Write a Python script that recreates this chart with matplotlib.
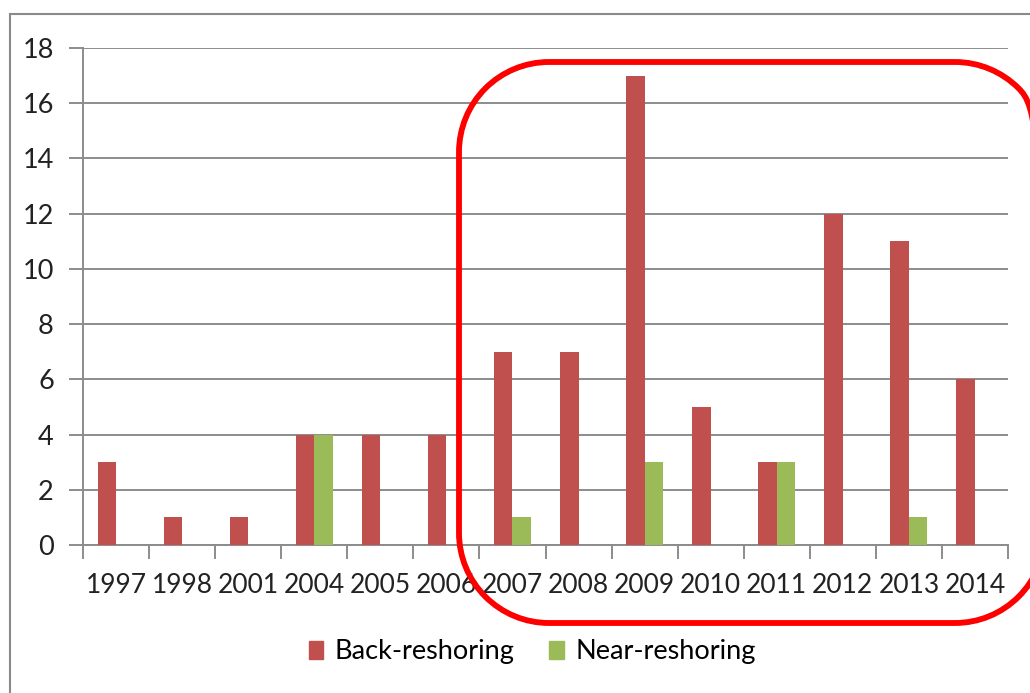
import numpy as np
import matplotlib.pyplot as plt
from matplotlib.patches import Rectangle, Patch, PathPatch
from matplotlib.path import Path
from matplotlib.transforms import IdentityTransform

plt.rcParams['font.family'] = ['Lato', 'DejaVu Sans']

years = ["1997", "1998", "2001", "2004", "2005", "2006", "2007",
         "2008", "2009", "2010", "2011", "2012", "2013", "2014"]
back_reshoring = [3, 1, 1, 4, 4, 4, 7, 7, 17, 5, 3, 12, 11, 6]
near_reshoring = [0, 0, 0, 4, 0, 0, 1, 0, 3, 0, 3, 0, 1, 0]

RED = "#C0504D"
GREEN = "#9BBB59"
GRID = "#8C8C8C"

W, H = 1030, 693
fig = plt.figure(figsize=(W / 100, H / 100), dpi=100)
ax = fig.add_axes([83 / W, 148 / H, (1008 - 83) / W, (545 - 48) / H])

x = np.arange(len(years))
bw = 0.28
ax.bar(x - bw / 2, back_reshoring, bw, color=RED, zorder=3)
ax.bar(x + bw / 2, near_reshoring, bw, color=GREEN, zorder=3)

ax.set_xlim(-0.5, len(years) - 0.5)
ax.set_ylim(0, 18)
ax.set_yticks(range(0, 19, 2))
ax.yaxis.grid(True, color=GRID, linewidth=1.4, zorder=0)
ax.set_axisbelow(True)

ax.set_xticks(x)
ax.set_xticklabels(years)
ax.set_xticks(np.arange(-0.5, len(years), 1.0), minor=True)
ax.tick_params(axis="x", which="major", length=0, pad=20, labelsize=19,
               labelcolor="#222222")
ax.tick_params(axis="x", which="minor", length=10, width=1.4, color=GRID)
ax.tick_params(axis="y", length=10, width=1.4, color=GRID, pad=11,
               labelsize=19.5, labelcolor="#222222")

for side in ["top", "right"]:
    ax.spines[side].set_visible(False)
for side in ["left", "bottom"]:
    ax.spines[side].set_color(GRID)
    ax.spines[side].set_linewidth(1.4)

handles = [Patch(color=RED, label="Back-reshoring"),
           Patch(color=GREEN, label="Near-reshoring")]
fig.legend(handles=handles, loc="center", bbox_to_anchor=(532 / W, 1 - 652 / H),
           ncol=2, frameon=False, fontsize=19.5, handlelength=0.55,
           handleheight=0.6, handletextpad=0.4, columnspacing=1.3)

# outer chart frame
fig.patches.append(Rectangle((10, -20), 1100, H - 14 + 20, transform=IdentityTransform(),
                             fill=False, edgecolor="#8A8A8A", linewidth=1.5))


def rounded_box(x0, y0, x1, y1, r):
    # rounded rectangle in pixel units, built from straight runs and quarter arcs
    verts, codes = [], []
    corners = [((x1 - r, y0 + r), 270), ((x1 - r, y1 - r), 0),
               ((x0 + r, y1 - r), 90), ((x0 + r, y0 + r), 180)]
    for (cx, cy), start in corners:
        arc = Path.arc(start, start + 90)
        v = arc.vertices * r + [cx, cy]
        c = list(arc.codes)
        c[0] = Path.MOVETO if not verts else Path.LINETO
        verts.extend(v)
        codes.extend(c)
    verts.append(verts[0])
    codes.append(Path.CLOSEPOLY)
    return Path(np.array(verts), codes)


# highlight box around 2007-2014
fig.patches.append(PathPatch(rounded_box(459, 70, 1045, 631, 90),
                             transform=IdentityTransform(), fill=False,
                             edgecolor="#FF0000", linewidth=4.2, zorder=10))

fig.savefig("out.png", dpi=100)
